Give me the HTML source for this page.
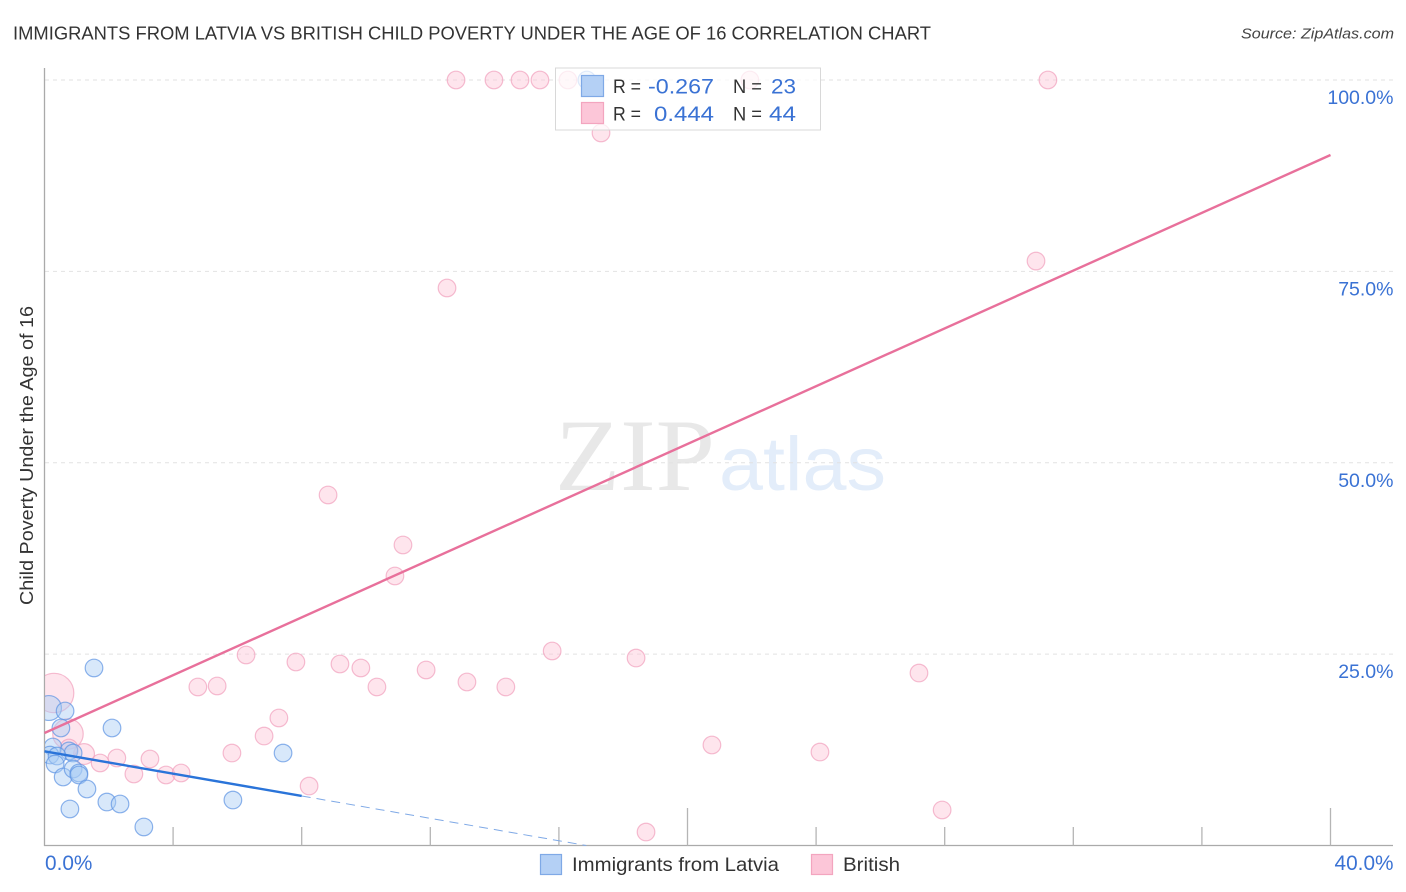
<!DOCTYPE html>
<html lang="en">
<head>
<meta charset="utf-8">
<title>Immigrants from Latvia vs British Child Poverty Correlation Chart</title>
<style>
html,body{margin:0;padding:0;background:#fff;}
svg{display:block;font-family:"Liberation Sans",sans-serif;}
</style>
</head>
<body>
<svg id="chart" xmlns="http://www.w3.org/2000/svg" width="1406" height="892" viewBox="0 0 1406 892">
  <defs>
    <clipPath id="plot-clip"><rect x="45" y="60" width="1350" height="786"></rect></clipPath>
  </defs>
  <rect x="0" y="0" width="1406" height="892" fill="#ffffff"></rect>
  <text x="13" y="39.5" font-size="18.5" fill="#333" textLength="918" lengthAdjust="spacingAndGlyphs">IMMIGRANTS FROM LATVIA VS BRITISH CHILD POVERTY UNDER THE AGE OF 16 CORRELATION CHART</text>
  <text x="1241" y="38.5" font-size="15" font-style="italic" fill="#444" textLength="153" lengthAdjust="spacingAndGlyphs">Source: ZipAtlas.com</text>
  <g id="watermark">
    <text x="555" y="490" font-family="'Liberation Serif',serif" font-size="103" fill="#e8e8e8" textLength="160" lengthAdjust="spacingAndGlyphs">ZIP</text>
    <text x="719" y="490" font-size="76" fill="#e3edfa" textLength="167" lengthAdjust="spacingAndGlyphs">atlas</text>
  </g>
  <g id="grid"></g>
  <g id="axes">
    <line x1="44.5" y1="68" x2="44.5" y2="846" stroke="#aaa" stroke-width="1.3"></line>
    <line x1="44" y1="845.5" x2="1393" y2="845.5" stroke="#aaa" stroke-width="1.3"></line>
  </g>
  <g id="x-ticks"></g>
  <g id="points-british" clip-path="url(#plot-clip)"></g>
  <g id="points-latvia" clip-path="url(#plot-clip)"></g>
  <g id="trends"></g>
  <g id="y-labels"></g>
  <g id="x-labels"></g>
  <text transform="translate(33,455.5) rotate(-90)" text-anchor="middle" font-size="18" fill="#333" textLength="299" lengthAdjust="spacingAndGlyphs">Child Poverty Under the Age of 16</text>

  <g>
    <rect x="555.5" y="68" width="265" height="62" fill="#ffffff" fill-opacity="0.72" stroke="#d8d8d8" stroke-width="1"></rect>
    <rect x="581.5" y="75.5" width="22" height="21" fill="#b4d0f5" stroke="#7fa9e6" stroke-width="1.2"></rect>
    <rect x="581.5" y="102.5" width="22" height="21" fill="#fcc6d8" stroke="#f3a5bf" stroke-width="1.2"></rect>
    <g font-size="19.5" fill="#333">
      <text x="613" y="93" textLength="28" lengthAdjust="spacingAndGlyphs">R =</text>
      <text x="733" y="93" textLength="29" lengthAdjust="spacingAndGlyphs">N =</text>
      <text x="613" y="120.5" textLength="28" lengthAdjust="spacingAndGlyphs">R =</text>
      <text x="733" y="120.5" textLength="29" lengthAdjust="spacingAndGlyphs">N =</text>
    </g>
    <g font-size="21" fill="#3a72d4">
      <text x="648" y="93.5" textLength="66" lengthAdjust="spacingAndGlyphs">-0.267</text>
      <text x="771" y="93.5" textLength="25" lengthAdjust="spacingAndGlyphs">23</text>
      <text x="654" y="121" textLength="60" lengthAdjust="spacingAndGlyphs">0.444</text>
      <text x="769" y="121" textLength="27" lengthAdjust="spacingAndGlyphs">44</text>
    </g>
  </g>

  <g>
    <rect x="540.5" y="854.5" width="21" height="20" fill="#b4d0f5" stroke="#7fa9e6" stroke-width="1.2"></rect>
    <text x="572" y="871" font-size="19.5" fill="#333" textLength="207" lengthAdjust="spacingAndGlyphs">Immigrants from Latvia</text>
    <rect x="811.5" y="854.5" width="21" height="20" fill="#fcc6d8" stroke="#f3a5bf" stroke-width="1.2"></rect>
    <text x="843" y="871" font-size="19.5" fill="#333" textLength="57" lengthAdjust="spacingAndGlyphs">British</text>
  </g>
</svg>

<script>
// ---- Chart data (percent units) ----
const yGridValues = [25, 50, 75, 100];
const yTickLabels = ["25.0%", "50.0%", "75.0%", "100.0%"];
const xTickValues = [4, 8, 12, 16, 20, 24, 28, 32, 36, 40];
const xMajorTickValues = [20, 40];
const xEndValues = [0, 40];
const xEndLabels = ["0.0%", "40.0%"];

const latviaX = [1.54, 0.14, 0.64, 0.51, 2.10, 0.26, 7.42, 0.76, 0.89, 0.17, 0.39, 0.33, 0.58, 0.89, 1.07, 1.07, 1.32, 1.94, 2.35, 0.79, 5.86, 3.09, 16.87];
const latviaY = [23.19, 17.96, 17.57, 15.35, 15.35, 12.87, 12.08, 12.35, 12.08, 11.82, 11.69, 10.65, 8.95, 9.99, 9.47, 9.21, 7.38, 5.68, 5.42, 4.77, 5.94, 2.42, 100];
const latviaWeight = [1, 2, 1, 1, 1, 1, 1, 1, 1, 1, 1, 1, 1, 1, 1, 1, 1, 1, 1, 1, 1, 1, 1];

const britishX = [12.80, 13.98, 14.79, 15.41, 16.28, 21.94, 31.21, 17.31, 30.84, 12.52, 8.82, 11.15, 10.90, 15.79, 6.27, 18.40, 7.82, 9.19, 9.84, 11.87, 27.20, 13.14, 10.34, 14.35, 4.77, 5.37, 7.29, 6.83, 20.76, 5.83, 24.12, 2.25, 3.28, 1.23, 1.73, 2.78, 3.78, 4.25, 8.23, 27.92, 18.71, 0.30, 0.73, 0.76];
const britishY = [100, 100, 100, 100, 100, 100, 100, 93.08, 76.35, 72.83, 45.79, 39.26, 35.21, 25.41, 24.89, 24.49, 23.97, 23.71, 23.19, 22.93, 22.53, 21.36, 20.71, 20.71, 20.71, 20.84, 16.66, 14.30, 13.13, 12.08, 12.21, 11.43, 11.30, 11.95, 10.78, 9.34, 9.21, 9.47, 7.77, 4.64, 1.76, 19.92, 14.57, 12.74];
const britishWeight = [1, 1, 1, 1, 1, 1, 1, 1, 1, 1, 1, 1, 1, 1, 1, 1, 1, 1, 1, 1, 1, 1, 1, 1, 1, 1, 1, 1, 1, 1, 1, 1, 1, 1.4, 1, 1, 1, 1, 1, 1, 1, 5, 3, 1];

const britishTrendX = [0, 40];
const britishTrendY = [14.7, 90.2];
const latviaTrendX = [0, 8];
const latviaTrendY = [12.3, 6.47];
const latviaDashX = [8, 16.85];
const latviaDashY = [6.47, 0];

// ---- Axis functions ----
const xScale = v => 44.5 + v * 32.15;
const yScale = v => 845.5 - v * 7.655;
const rScale = w => 8.8 * Math.sqrt(w);

const NS = "http://www.w3.org/2000/svg";
function make(tag, parentId, attrs) {
  const el = document.createElementNS(NS, tag);
  for (const k in attrs) el.setAttribute(k, attrs[k]);
  document.getElementById(parentId).appendChild(el);
  return el;
}

// Gridlines and y labels
yGridValues.forEach((v, i) => {
  const g = make("line", "grid", {x1: 45, x2: 1393, y1: yScale(v), y2: yScale(v), stroke: "#e2e2e2", "stroke-width": 1, "stroke-dasharray": "4 4"});
  
  
  const t = make("text", "y-labels", {x: 1393.5, y: yScale(v) + 24, "text-anchor": "end", "font-size": 19.5, fill: "#3a72d4"});
  
  
  t.textContent = yTickLabels[i];
});

// X ticks
xTickValues.forEach(v => {
  const top = xMajorTickValues.includes(v) ? 808 : 827;
  const l = make("line", "x-ticks", {x1: xScale(v), x2: xScale(v), y1: top, y2: 845.5, stroke: "#b5b5b5", "stroke-width": 1.3});
  
  
});

// X labels
xEndValues.forEach((v, i) => {
  const t = make("text", "x-labels", {x: i === 0 ? xScale(v) + 0.5 : xScale(v) + 63, y: 870, "text-anchor": i === 0 ? "start" : "end", "font-size": 20.8, fill: "#3a72d4"});
  
  
  t.textContent = xEndLabels[i];
});

// Points
britishX.forEach((v, i) => {
  const c = make("circle", "points-british", {cx: xScale(v), cy: yScale(britishY[i]), r: rScale(britishWeight[i]), fill: "#fcc6d8", "fill-opacity": 0.45, stroke: "#f09ab8", "stroke-opacity": 0.65, "stroke-width": 1.2});
  
  
});
latviaX.forEach((v, i) => {
  const c = make("circle", "points-latvia", {cx: xScale(v), cy: yScale(latviaY[i]), r: rScale(latviaWeight[i]), fill: "#a9cbf5", "fill-opacity": 0.45, stroke: "#5d93e2", "stroke-opacity": 0.7, "stroke-width": 1.2});
  
  
});

// Trend lines
const pinkLine = make("line", "trends", {x1: xScale(britishTrendX[0]), y1: yScale(britishTrendY[0]), x2: xScale(britishTrendX[1]), y2: yScale(britishTrendY[1]), stroke: "#e8709b", "stroke-width": 2.4});


const blueLine = make("line", "trends", {x1: xScale(latviaTrendX[0]), y1: yScale(latviaTrendY[0]), x2: xScale(latviaTrendX[1]), y2: yScale(latviaTrendY[1]), stroke: "#2a74d9", "stroke-width": 2.4});


const blueDash = make("line", "trends", {x1: xScale(latviaDashX[0]), y1: yScale(latviaDashY[0]), x2: xScale(latviaDashX[1]), y2: yScale(latviaDashY[1]), stroke: "#7fa9e6", "stroke-width": 1, "stroke-dasharray": "9 6"});


</script>
</body>
</html>
